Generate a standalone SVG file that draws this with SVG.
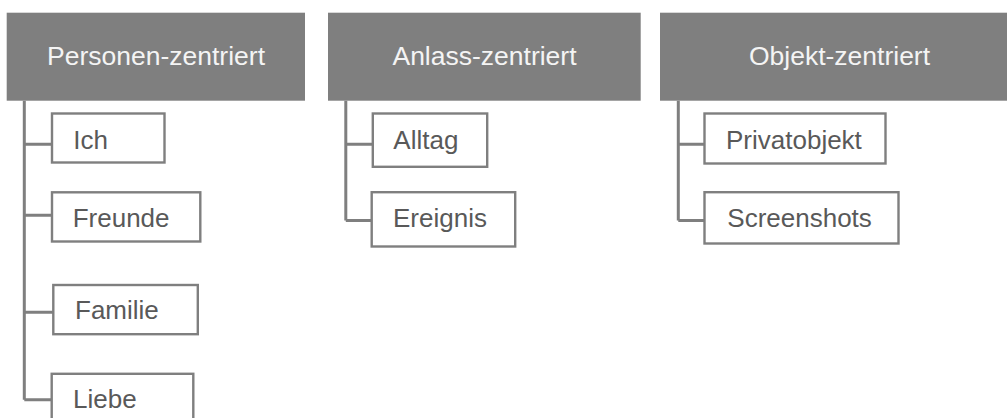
<svg xmlns="http://www.w3.org/2000/svg" width="1007" height="418" viewBox="0 0 1007 418">
  <style>
    .head rect { fill: #7f7f7f; }
    .head text { fill: #f4f4f4; font-family: "Liberation Sans", Arial, sans-serif; font-size: 26.5px; text-anchor: middle; }
    .item rect { fill: #ffffff; stroke: #7f7f7f; stroke-width: 2.4; }
    .item text { fill: #595959; font-family: "Liberation Sans", Arial, sans-serif; font-size: 26px; }
    #connectors path { fill: none; stroke: #7f7f7f; stroke-width: 3; }
  </style>
  <rect width="1007" height="418" fill="#ffffff"/>

  <!-- tree connectors -->
  <g id="connectors">
    <path d="M24.3,100.7 V399.7 M24.3,144.3 H52 M24.3,215.3 H52 M24.3,312.3 H53.3 M24.3,399.7 H51.7"/>
    <path d="M345.8,100.7 V220.5 M345.8,144.3 H372.8 M345.8,220.5 H371.7"/>
    <path d="M678.3,100.7 V220.5 M678.3,144.3 H704.5 M678.3,220.5 H704.5"/>
  </g>

  <!-- category headers -->
  <g id="personen" class="head">
    <rect x="6.7" y="12.7" width="298.3" height="88"/>
    <text x="156" y="65">Personen-zentriert</text>
  </g>
  <g id="anlass" class="head">
    <rect x="328" y="12.7" width="312.7" height="88"/>
    <text x="484.5" y="65">Anlass-zentriert</text>
  </g>
  <g id="objekt" class="head">
    <rect x="660" y="12.7" width="360" height="88"/>
    <text x="839.5" y="65">Objekt-zentriert</text>
  </g>

  <!-- Personen-zentriert items -->
  <g id="ich" class="item">
    <rect x="52" y="113.5" width="112.5" height="49"/>
    <text x="73.3" y="149.3">Ich</text>
  </g>
  <g id="freunde" class="item">
    <rect x="52" y="192.3" width="148.3" height="49.2"/>
    <text x="72.7" y="227">Freunde</text>
  </g>
  <g id="familie" class="item">
    <rect x="53.3" y="285" width="144.5" height="49.2"/>
    <text x="75" y="319.3">Familie</text>
  </g>
  <g id="liebe" class="item">
    <rect x="51.7" y="373.8" width="141.6" height="49"/>
    <text x="73" y="408.3">Liebe</text>
  </g>

  <!-- Anlass-zentriert items -->
  <g id="alltag" class="item">
    <rect x="372.8" y="113.5" width="114.4" height="53.3"/>
    <text x="393.3" y="149">Alltag</text>
  </g>
  <g id="ereignis" class="item">
    <rect x="371.7" y="192.2" width="143.5" height="54.3"/>
    <text x="393" y="226.7">Ereignis</text>
  </g>

  <!-- Objekt-zentriert items -->
  <g id="privatobjekt" class="item">
    <rect x="704.5" y="113.5" width="181" height="50"/>
    <text x="726" y="149">Privatobjekt</text>
  </g>
  <g id="screenshots" class="item">
    <rect x="704.5" y="192.2" width="194" height="51.3"/>
    <text x="727.3" y="226.7">Screenshots</text>
  </g>
</svg>
